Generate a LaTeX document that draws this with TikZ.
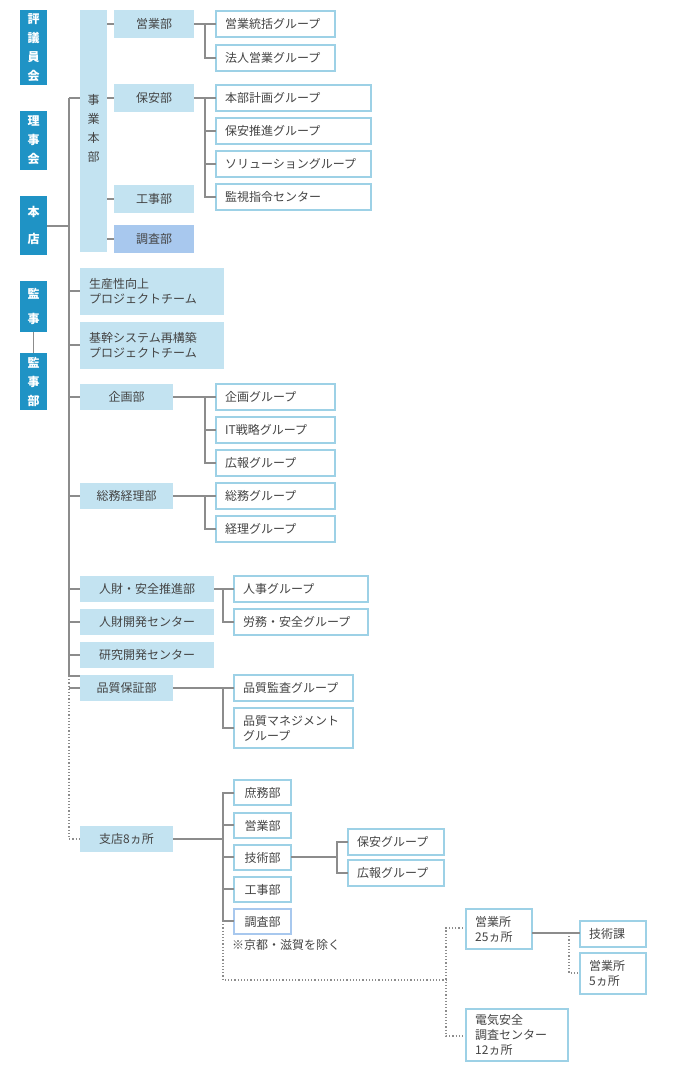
\documentclass[tikz,border=0pt]{standalone}
\usepackage{fontspec}
\setmainfont{Noto Sans CJK JP}
\definecolor{dk}{HTML}{1F93C5}
\definecolor{lt}{HTML}{C3E3F1}
\definecolor{bd}{HTML}{9DD1E6}
\definecolor{cs}{HTML}{A8C8EE}
\definecolor{ln}{HTML}{8C8C8C}
\definecolor{tx}{HTML}{444444}
\begin{document}
\begin{tikzpicture}[x=1pt,y=-1pt,
  every node/.style={font=\fontsize{12}{15}\selectfont,text=tx,inner sep=0pt},
  lk/.style={draw=ln,line width=1.5pt},
  dl/.style={draw=ln,line width=1.2pt,dotted},
  dkb/.style={fill=dk},
  ltb/.style={fill=lt},
  grb/.style={draw=bd,line width=1.5pt,fill=white}]
\useasboundingbox (0,0) rectangle (680,1073);
\newcommand\bx[7]{% style,name,x1,y1,x2,y2,text(left)
  \path[#1] (#3,#4) rectangle (#5,#6);
  \node[anchor=west,align=left] (#2) at (#3+9,{(#4+#6)/2}) {#7};}
\newcommand\cb[7]{%
  \path[#1] (#3,#4) rectangle (#5,#6);
  \node[align=center] (#2) at ({(#3+#5)/2},{(#4+#6)/2}) {#7};}
% left column
\tikzset{vt/.style={text=white,font=\fontsize{12}{19}\bfseries\selectfont,align=center}}
\path[dkb] (20,10) rectangle (47,85); \node[vt] (hyo) at (33.5,47.5) {評\\議\\員\\会};
\path[dkb] (20,111) rectangle (47,170); \node[vt] (rij) at (33.5,140.5) {理\\事\\会};
\path[dkb] (20,196) rectangle (47,255); \node[vt] (hon) at (33.5,225.5) {本\\[8pt]店};
\path[dkb] (20,281) rectangle (47,332); \node[vt] (kan) at (33.5,306.5) {監\\[6pt]事};
\path[dkb] (20,353) rectangle (47,410); \node[vt] (kbu) at (33.5,381.5) {監\\事\\部};
\draw[lk] (33.5,332) -- (33.5,353);
\draw[lk] (47,226) -- (69,226);
\draw[lk] (69,98) -- (69,676) -- (80,676);
\draw[dl] (69,676) -- (69,839) -- (80,839);
% jigyo honbu
\path[ltb] (80,10) rectangle (107,252);
\node[font=\fontsize{12}{19}\selectfont,align=center] (jig) at (93.5,128) {事\\業\\本\\部};
\draw[lk] (69,98) -- (80,98);
\cb{ltb}{eig}{114}{10}{194}{38}{営業部}
\cb{ltb}{hoa}{114}{84}{194}{112}{保安部}
\cb{ltb}{koj}{114}{185}{194}{213}{工事部}
\cb{fill=cs}{cho}{114}{225}{194}{253}{調査部}
\foreach \y in {24,98,199,239} \draw[lk] (107,\y) -- (114,\y);
\bx{grb}{g1}{216}{11}{335}{37}{営業統括グループ}
\bx{grb}{g2}{216}{45}{335}{71}{法人営業グループ}
\draw[lk] (194,24) -- (216,24); \draw[lk] (205,24) |- (216,58);
\bx{grb}{g3}{216}{85}{371}{111}{本部計画グループ}
\bx{grb}{g4}{216}{118}{371}{144}{保安推進グループ}
\bx{grb}{g5}{216}{151}{371}{177}{ソリューショングループ}
\bx{grb}{g6}{216}{184}{371}{210}{監視指令センター}
\draw[lk] (194,98) -- (216,98); \draw[lk] (205,98) |- (216,197);
\foreach \y in {131,164} \draw[lk] (205,\y) -- (216,\y);
% projects
\bx{ltb}{p1}{80}{268}{224}{315}{生産性向上\\プロジェクトチーム}
\bx{ltb}{p2}{80}{322}{224}{369}{基幹システム再構築\\プロジェクトチーム}
\draw[lk] (69,291) -- (80,291); \draw[lk] (69,345) -- (80,345);
% kikaku
\cb{ltb}{kik}{80}{384}{173}{410}{企画部}
\draw[lk] (69,397) -- (80,397);
\bx{grb}{k1}{216}{384}{335}{410}{企画グループ}
\bx{grb}{k2}{216}{417}{335}{443}{IT戦略グループ}
\bx{grb}{k3}{216}{450}{335}{476}{広報グループ}
\draw[lk] (173,397) -- (216,397); \draw[lk] (205,397) |- (216,463); \draw[lk] (205,430) -- (216,430);
% somu
\cb{ltb}{som}{80}{483}{173}{509}{総務経理部}
\draw[lk] (69,496) -- (80,496);
\bx{grb}{s1}{216}{483}{335}{509}{総務グループ}
\bx{grb}{s2}{216}{516}{335}{542}{経理グループ}
\draw[lk] (173,496) -- (216,496); \draw[lk] (205,496) |- (216,529);
% jinzai
\cb{ltb}{jin}{80}{576}{214}{602}{人財・安全推進部}
\cb{ltb}{jik}{80}{609}{214}{635}{人財開発センター}
\cb{ltb}{ken}{80}{642}{214}{668}{研究開発センター}
\foreach \y in {589,622,655} \draw[lk] (69,\y) -- (80,\y);
\bx{grb}{j1}{234}{576}{368}{602}{人事グループ}
\bx{grb}{j2}{234}{609}{368}{635}{労務・安全グループ}
\draw[lk] (214,589) -- (234,589); \draw[lk] (223,589) |- (234,622);
% hinshitsu
\cb{ltb}{hin}{80}{675}{173}{701}{品質保証部}
\draw[lk] (69,688) -- (80,688);
\bx{grb}{h1}{234}{675}{353}{701}{品質監査グループ}
\bx{grb}{h2}{234}{708}{353}{748}{品質マネジメント\\グループ}
\draw[lk] (173,688) -- (234,688); \draw[lk] (223,688) |- (234,728);
% shiten
\cb{ltb}{shi}{80}{826}{173}{852}{支店8ヵ所}
\draw[lk] (173,839) -- (223,839);
\cb{grb}{b1}{234}{780}{291}{805}{庶務部}
\cb{grb}{b2}{234}{813}{291}{838}{営業部}
\cb{grb}{b3}{234}{845}{291}{870}{技術部}
\cb{grb}{b4}{234}{877}{291}{902}{工事部}
\cb{draw=cs,line width=1.5pt,fill=white}{b5}{234}{909}{291}{934}{調査部}
\draw[lk] (234,793) -| (223,921) -- (234,921);
\foreach \y in {825,857,889} \draw[lk] (223,\y) -- (234,\y);
\node[anchor=west] (note) at (232,945) {※京都・滋賀を除く};
\bx{grb}{t1}{348}{829}{444}{855}{保安グループ}
\bx{grb}{t2}{348}{860}{444}{886}{広報グループ}
\draw[lk] (291,857) -- (337,857); \draw[lk] (348,842) -| (337,873) -- (348,873);
\draw[dl] (223,921) -- (223,980) -- (446,980);
\draw[dl] (466,928) -| (446,1036) -- (466,1036);
\bx{grb}{e1}{466}{909}{532}{949}{営業所\\25ヵ所}
\bx{grb}{e2}{580}{921}{646}{947}{技術課}
\bx{grb}{e3}{580}{953}{646}{994}{営業所\\5ヵ所}
\bx{grb}{d1}{466}{1009}{568}{1061}{電気安全\\調査センター\\12ヵ所}
\draw[lk] (532,933) -- (580,933);
\draw[dl] (569,933) |- (580,973);
\end{tikzpicture}
\end{document}
